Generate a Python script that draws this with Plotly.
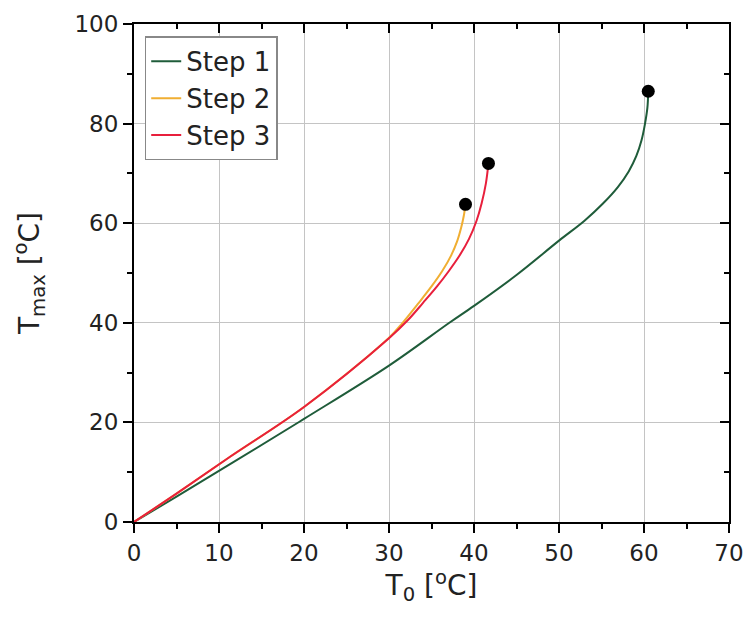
import plotly.graph_objects as go

# ---- data ----
step1_x = [0, 5, 11.3, 20, 30, 37.1, 40, 45, 50, 53, 55.2, 56.9, 58.2, 59.1, 59.7, 60.1, 60.4, 60.5]
step1_y = [0, 5.1, 11.6, 20.7, 31.4, 40.0, 43.4, 49.6, 56.5, 60.5, 64.0, 67.2, 70.4, 73.5, 76.6, 79.8, 83.2, 86.5]

step2_x = [0, 5, 11.3, 20, 30, 31.6, 33.4, 35.0, 36.3, 37.3, 38.0, 38.5, 38.8, 39.0]
step2_y = [0, 5.7, 13.1, 23.1, 37.0, 40.0, 43.8, 47.3, 50.5, 53.5, 56.3, 59.2, 61.5, 63.8]

step3_x = [0, 5, 11.3, 20, 30, 32.2, 34.0, 35.6, 37.0, 38.3, 39.4, 40.3, 40.9, 41.4, 41.7]
step3_y = [0, 5.7, 13.1, 23.1, 36.9, 40.5, 44.0, 47.2, 50.3, 53.5, 56.8, 60.5, 64.0, 68.0, 72.0]

end_x = [60.5, 39.0, 41.7]
end_y = [86.5, 63.8, 72.0]

series = [
    ("Step 1", step1_x, step1_y, "#1f5c3a"),
    ("Step 2", step2_x, step2_y, "#f0ae32"),
    ("Step 3", step3_x, step3_y, "#e81f3c"),
]

x_ticks = [0, 10, 20, 30, 40, 50, 60, 70]
y_ticks = [0, 20, 40, 60, 80, 100]

FONT = "DejaVu Sans"

fig = go.Figure()
for name, xs, ys, col in series:
    fig.add_trace(go.Scatter(x=xs, y=ys, mode="lines", name=name,
                             line=dict(color=col, width=2, shape="spline", smoothing=1.0)))

fig.add_trace(go.Scatter(x=end_x, y=end_y, mode="markers", showlegend=False,
                         marker=dict(color="black", size=13)))

# helper trace to create the mirrored (top/right) axes
fig.add_trace(go.Scatter(x=[None], y=[None], xaxis="x2", yaxis="y2",
                         showlegend=False, hoverinfo="skip"))

common = dict(showline=True, linecolor="black", linewidth=2, zeroline=False,
              tickcolor="black", tickwidth=1.5, mirror=False)

fig.update_layout(
    width=749, height=620,
    margin=dict(l=134, r=20, t=24, b=98, autoexpand=False),
    paper_bgcolor="white", plot_bgcolor="white",
    font=dict(family=FONT, size=23, color="#222"),
    showlegend=True,
    legend=dict(x=0.018, y=0.975, xanchor="left", yanchor="top",
                bgcolor="white", bordercolor="#888", borderwidth=1.5,
                font=dict(family=FONT, size=26, color="#222"),
                tracegroupgap=0),
    xaxis=dict(range=[0, 70], tickvals=x_ticks, ticks="outside", ticklen=9,
               showgrid=True, gridcolor="#c4c4c4", gridwidth=1.2,
               minor=dict(dtick=5, ticks="outside", ticklen=5, tickcolor="black", showgrid=False),
               title=dict(text="T<sub>0</sub> [<sup>o</sup>C]", font=dict(size=28), standoff=4),
               automargin=True, **common),
    yaxis=dict(range=[0, 100], tickvals=y_ticks, ticks="outside", ticklen=9,
               showgrid=True, gridcolor="#c4c4c4", gridwidth=1.2,
               minor=dict(dtick=10, ticks="outside", ticklen=5, tickcolor="black", showgrid=False),
               title=dict(text="T<sub>max</sub> [<sup>o</sup>C]", font=dict(size=28), standoff=27),
               automargin=True, **common),
    xaxis2=dict(range=[0, 70], overlaying="x", side="top", tickvals=x_ticks,
                ticks="inside", ticklen=9, showticklabels=False, showgrid=False,
                minor=dict(dtick=5, ticks="inside", ticklen=5, tickcolor="black", showgrid=False),
                **common),
    yaxis2=dict(range=[0, 100], overlaying="y", side="right", tickvals=y_ticks,
                ticks="inside", ticklen=9, showticklabels=False, showgrid=False,
                minor=dict(dtick=10, ticks="inside", ticklen=5, tickcolor="black", showgrid=False),
                **common),
)

fig.write_html("out.html")
